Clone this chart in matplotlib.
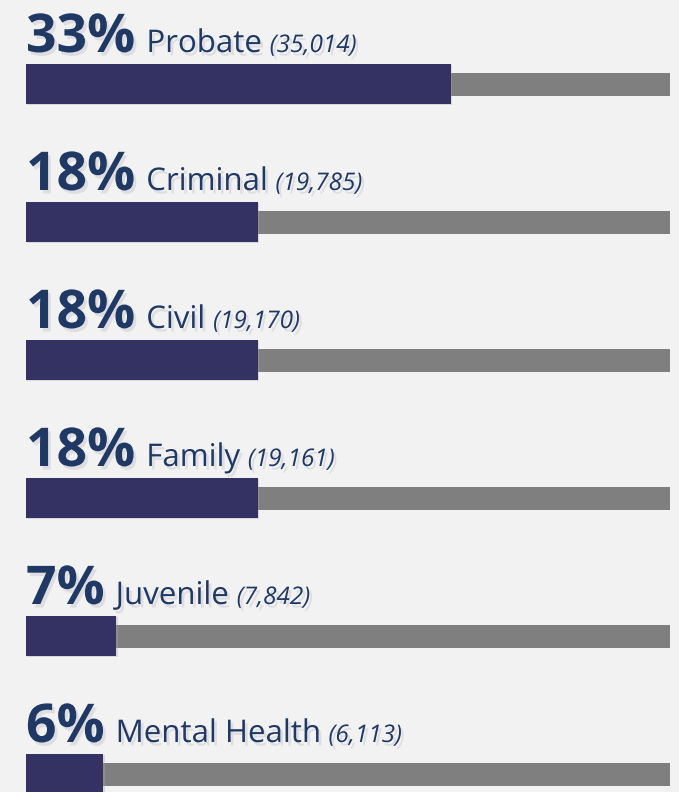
import matplotlib
matplotlib.use('Agg')
from matplotlib import pyplot as plt
from matplotlib import patheffects as pe

plt.rcParams['font.family'] = ['Open Sans', 'DejaVu Sans']

# Data
categories = ['Probate', 'Criminal', 'Civil', 'Family', 'Juvenile', 'Mental Health']
percents = [33, 18, 18, 18, 7, 6]
counts = [35014, 19785, 19170, 19161, 7842, 6113]
scale_max = 50

navy = '#343262'
grey = '#7f7f7f'
text_col = '#1f3864'
bg = '#f2f2f2'

fig = plt.figure(figsize=(6.79, 7.92), dpi=100, facecolor=bg)
# axes spans the full height, bar area from x=26px to x=670px
ax = fig.add_axes([26 / 679, 0, 644 / 679, 1])
ax.set_facecolor(bg)
ax.set_xlim(0, scale_max)
ax.set_ylim((792 - 84) / 138, -84 / 138)
ax.axis('off')

shadow = [pe.withSimplePatchShadow(offset=(2, -2.5), shadow_rgbFace='#9a9aaa', alpha=0.22)]
bar_shadow = [pe.withSimplePatchShadow(offset=(1, -1), shadow_rgbFace='#aaaaaa', alpha=0.35)]

rows = range(len(categories))
ax.barh(rows, [scale_max] * len(categories), height=23 / 138, color=grey, zorder=1)
bars = ax.barh(rows, percents, height=40 / 138, color=navy, zorder=2)
for b in bars:
    b.set_path_effects(bar_shadow)

fig.canvas.draw()
renderer = fig.canvas.get_renderer()
inv = ax.transData.inverted()

for i, (cat, pct, n) in enumerate(zip(categories, percents, counts)):
    y = i - 32 / 138
    t1 = ax.text(0.0, y, f'{pct}%', fontsize=38.5, fontweight='bold', color=text_col,
                 va='baseline', ha='left', path_effects=shadow, zorder=3)
    ext = t1.get_window_extent(renderer)
    x2 = inv.transform((ext.x1 + 11, 0))[0]
    t2 = ax.text(x2, y, cat, fontsize=22.5, color=text_col, va='baseline', ha='left',
                 path_effects=shadow, zorder=3)
    ext2 = t2.get_window_extent(renderer)
    x3 = inv.transform((ext2.x1 + 8, 0))[0]
    ax.text(x3, y, f'({n:,})', fontsize=17.5, style='italic', color=text_col,
            va='baseline', ha='left', path_effects=shadow, zorder=3)

fig.savefig('out.png', dpi=100, facecolor=bg)
